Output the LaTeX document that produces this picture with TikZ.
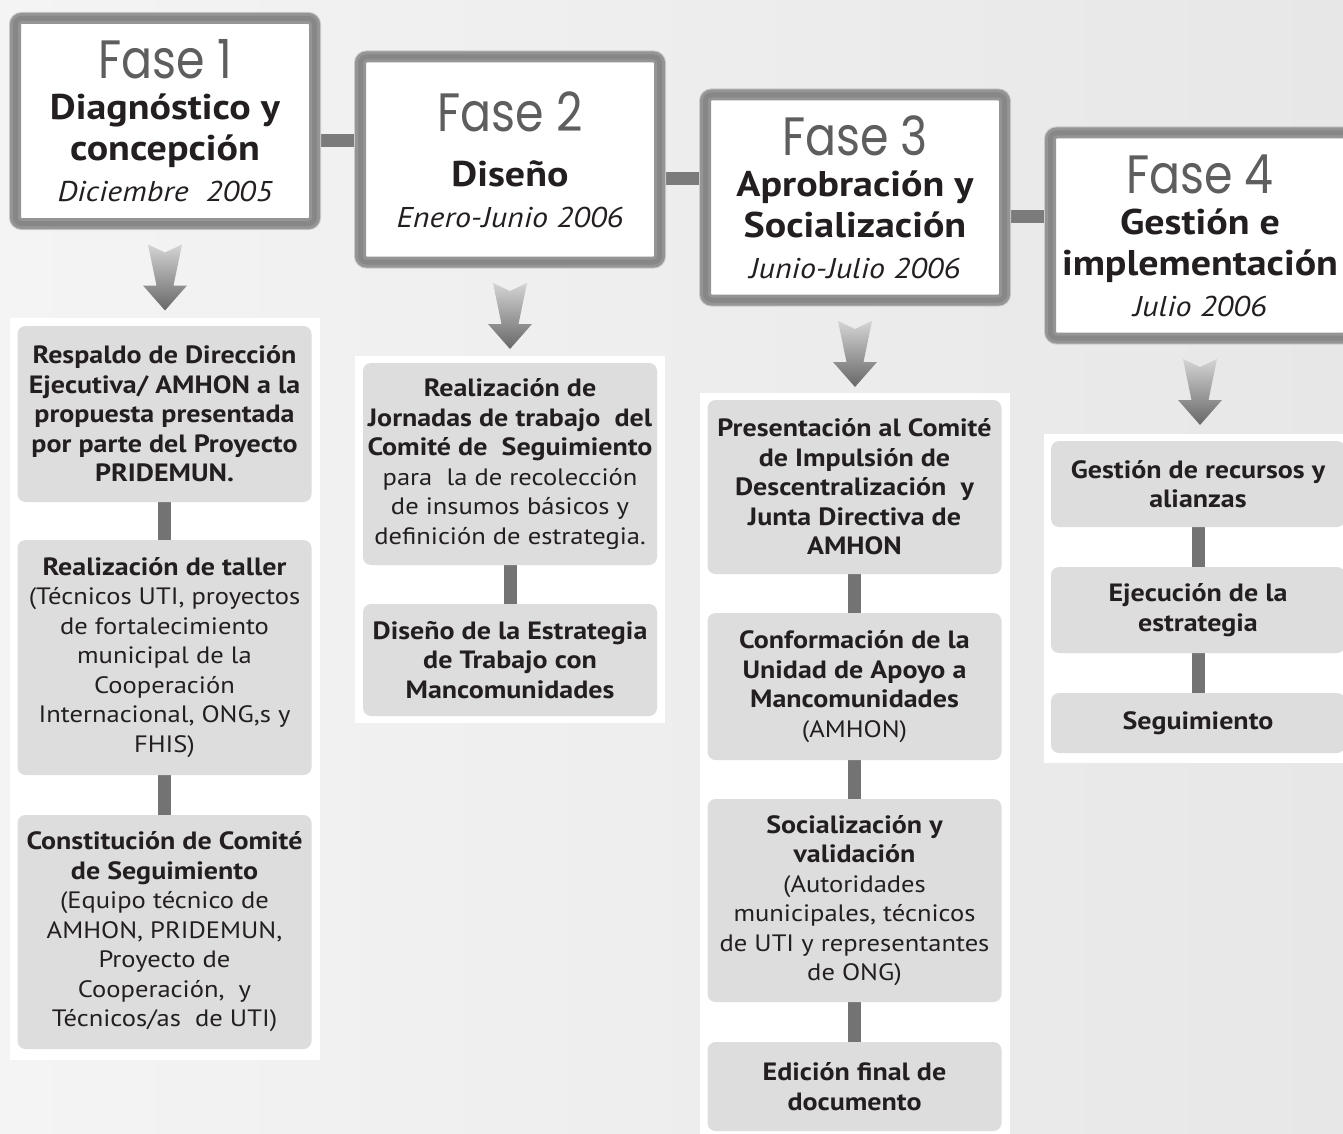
\documentclass[tikz,border=0pt]{standalone}
\usepackage{fontspec}
\setmainfont{PT Sans}[FakeStretch=1.12]
\newfontfamily\fasefont{Poppins}[FakeStretch=0.85]
\usetikzlibrary{calc}
\definecolor{txt}{HTML}{231F20}
\definecolor{boxfill}{HTML}{DDDDDD}
\definecolor{linkgray}{HTML}{737373}
\definecolor{hbargray}{HTML}{7B7B7B}
\definecolor{framemid}{HTML}{959595}
\definecolor{framedark}{HTML}{878787}
\definecolor{framelight}{HTML}{CBCBCB}
\definecolor{fasegray}{HTML}{5E5E5E}
\definecolor{bgleft}{HTML}{F4F4F4}
\definecolor{bgright}{HTML}{E7E7E7}
\definecolor{arrowtop}{HTML}{D4D4D4}
\definecolor{arrowbot}{HTML}{676767}
\pgfdeclarelayer{bg}
\pgfdeclarelayer{panels}
\pgfdeclarelayer{links}
\pgfsetlayers{bg,panels,links,main}
\newcommand{\fasettl}[1]{{\fasefont\fontsize{54}{54}\selectfont\color{fasegray}#1}}
\newcommand{\hb}[1]{{\bfseries #1}}
\newcommand{\hi}[1]{{\itshape\fontsize{28.6}{28.6}\selectfont #1}}
\newcommand{\rg}[1]{{\fontsize{23.7}{29.5}\selectfont #1}}
\begin{document}
\begin{tikzpicture}[x=1pt,y=-1pt,
  phase/.style={rectangle, rounded corners=6pt, minimum width=299pt, minimum height=205pt,
    inner sep=0pt, fill=white, draw=framemid, line width=11pt,
    preaction={draw=framelight, line width=13pt},
    postaction={draw=framedark, line width=5pt},
    align=center, text=txt, font=\fontsize{35.7}{41}\selectfont},
  stepbox/.style={rectangle, rounded corners=8pt, fill=boxfill, minimum width=294pt,
    inner sep=0pt, align=center, text=txt, font=\fontsize{25}{29.5}\selectfont},
  hbar/.style={draw=hbargray, line width=13pt},
  vbar/.style={draw=linkgray, line width=13pt},
  panel/.style={fill=white},
  downarrow/.style={top color=arrowtop, bottom color=arrowbot, draw=none}
]
\clip (0,0) rectangle (1343,1134);
\begin{pgfonlayer}{bg}
  \shade[left color=bgleft, right color=bgright] (0,0) rectangle (1343,1134);
\end{pgfonlayer}

% phase headers
\node[phase] (H1) at (165,121) {\fasettl{Fase 1}\\[0pt]\hb{Diagnóstico y}\\\hb{concepción}\\\hi{Diciembre~~2005}};
\node[phase] (H2) at (510,159.5) {\fasettl{Fase 2}\\[14pt]\hb{Diseño}\\\hi{Enero-Junio 2006}};
\node[phase] (H3) at (855,197.5) {\fasettl{Fase 3}\\[0pt]\hb{Aprobración y}\\\hb{Socialización}\\\hi{Junio-Julio 2006}};
\node[phase] (H4) at (1200,235.5) {\fasettl{Fase 4}\\[0pt]\hb{Gestión e}\\\hb{implementación}\\\hi{Julio 2006}};

% column 1
\node[stepbox, minimum height=176pt] (B11) at (164.5,414) {\hb{Respaldo de Dirección}\\\hb{Ejecutiva/ AMHON a la}\\\hb{propuesta presentada}\\\hb{por parte del Proyecto}\\\hb{PRIDEMUN.}};
\node[stepbox, minimum height=235pt] (B12) at (164.5,657.5) {\hb{Realización de taller}\\\rg{(Técnicos UTI, proyectos}\\\rg{de fortalecimiento}\\\rg{municipal de la}\\\rg{Cooperación}\\\rg{Internacional, ONG,s y}\\\rg{FHIS)}};
\node[stepbox, minimum height=234pt] (B13) at (164.5,932) {\hb{Constitución de Comité}\\\hb{de Seguimiento}\\\rg{(Equipo técnico de}\\\rg{AMHON, PRIDEMUN,}\\\rg{Proyecto de}\\\rg{Cooperación,~~y}\\\rg{Técnicos/as~~de UTI)}};

% column 2
\node[stepbox, minimum height=202pt] (B21) at (510,464) {\hb{Realización de}\\\hb{Jornadas de trabajo~~del}\\\hb{Comité de~~Seguimiento}\\\rg{para~~la de recolección}\\\rg{de insumos básicos y}\\\rg{definición de estrategia.}};
\node[stepbox, minimum height=112pt] (B22) at (510,660) {\hb{Diseño de la Estrategia}\\\hb{de Trabajo con}\\\hb{Mancomunidades}};

% column 3
\node[stepbox, minimum height=174pt] (B31) at (854.5,487) {\hb{Presentación al Comité}\\\hb{de Impulsión de}\\\hb{Descentralización~~y}\\\hb{Junta Directiva de}\\\hb{AMHON}};
\node[stepbox, minimum height=147pt] (B32) at (854.5,686.5) {\hb{Conformación de la}\\\hb{Unidad de Apoyo a}\\\hb{Mancomunidades}\\\rg{(AMHON)}};
\node[stepbox, minimum height=203pt] (B33) at (854.5,900.5) {\hb{Socialización y}\\\hb{validación}\\\rg{(Autoridades}\\\rg{municipales, técnicos}\\\rg{de UTI y representantes}\\\rg{de ONG)}};
\node[stepbox, minimum height=89pt] (B34) at (854.5,1086.5) {\hb{Edición final de}\\\hb{documento}};

% column 4
\node[stepbox, minimum height=86pt] (B41) at (1198,484) {\hb{Gestión de recursos y}\\\hb{alianzas}};
\node[stepbox, minimum height=86pt] (B42) at (1198,610) {\hb{Ejecución de la}\\\hb{estrategia}};
\node[stepbox, minimum height=60pt] (B43) at (1198,723) {\hb{Seguimiento}};

% white panels behind the columns
\begin{pgfonlayer}{panels}
  \fill[panel] ($(B11.north west)+(-7,-8)$) rectangle ($(B13.south east)+(8,11)$);
  \fill[panel] ($(B21.north west)+(-8,-7)$) rectangle ($(B22.south east)+(8,7)$);
  \fill[panel] ($(B31.north west)+(-7.5,-7)$) rectangle ($(B34.south east)+(8.5,10)$);
  \fill[panel] ($(B41.north west)+(-7,-7)$) rectangle ($(B43.south east)+(8,10)$);
\end{pgfonlayer}

% connectors
\begin{pgfonlayer}{links}
  \coordinate (m12) at ($(H1.center)!0.5!(H2.center)$);
  \coordinate (m23) at ($(H2.center)!0.5!(H3.center)$);
  \coordinate (m34) at ($(H3.center)!0.5!(H4.center)$);
  \draw[hbar] (H1.east |- m12) -- (H2.west |- m12);
  \draw[hbar] (H2.east |- m23) -- (H3.west |- m23);
  \draw[hbar] (H3.east |- m34) -- (H4.west |- m34);
  \draw[vbar] (B11.south) -- (B12.north);
  \draw[vbar] (B12.south) -- (B13.north);
  \draw[vbar] (B21.south) -- (B22.north);
  \draw[vbar] (B31.south) -- (B32.north);
  \draw[vbar] (B32.south) -- (B33.north);
  \draw[vbar] (B33.south) -- (B34.north);
  \draw[vbar] (B41.south) -- (B42.north);
  \draw[vbar] (B42.south) -- (B43.north);
\end{pgfonlayer}

% down arrows below each phase header
\foreach \h in {H1,H2,H3,H4}{
  \shade[downarrow, shift={($(\h.south)+(0,15.5)$)}]
    (-17,0) -- (0,8) -- (17,0) -- (8.5,41) -- (22,41) -- (0,66) -- (-22,41) -- (-8.5,41) -- cycle;
}
\end{tikzpicture}
\end{document}
